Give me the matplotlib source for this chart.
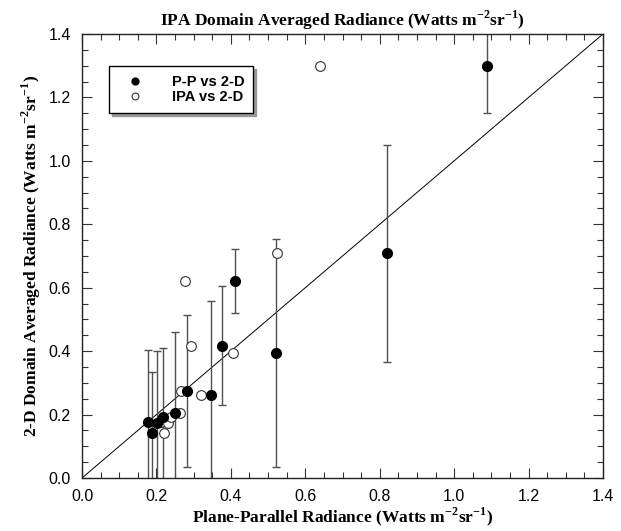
import numpy as np
import matplotlib.pyplot as plt
from matplotlib.ticker import MultipleLocator

plt.rcParams['mathtext.fontset'] = 'custom'
plt.rcParams['mathtext.rm'] = 'Liberation Serif:bold'
plt.rcParams['mathtext.bf'] = 'Liberation Serif:bold'

# 2-D domain averaged radiance (shared y for both series)
domain_2d = [0.178, 0.143, 0.172, 0.193, 0.206, 0.275, 0.261, 0.417, 0.621, 0.395, 0.709, 1.300]
# plane-parallel radiance and its spread
pp_rad = [0.178, 0.188, 0.202, 0.219, 0.250, 0.281, 0.346, 0.375, 0.411, 0.521, 0.819, 1.089]
pp_err = [0.226, 0.190, 0.229, 0.216, 0.255, 0.240, 0.297, 0.187, 0.100, 0.360, 0.342, 0.148]
# IPA domain averaged radiance
ipa_rad = [0.212, 0.220, 0.230, 0.238, 0.263, 0.266, 0.320, 0.292, 0.278, 0.407, 0.523, 0.640]

unit = r' (Watts m$^{\mathbf{-2}}$sr$^{\mathbf{-1}}$)'

fig = plt.figure(figsize=(6.21, 5.31), dpi=100)
ax = fig.add_axes([82 / 621, 1 - 478 / 531, 521 / 621, 444 / 531])

ax.plot([0, 1.4], [0, 1.4], color='black', lw=0.7, zorder=1)

ax.errorbar(pp_rad, domain_2d, yerr=pp_err, fmt='none', ecolor='#505050',
            elinewidth=1.0, capsize=3, capthick=1.0, zorder=2)
ax.plot(pp_rad, domain_2d, 'o', ms=7, mfc='black', mec='black',
        ls='none', label='P-P vs 2-D', zorder=4)
ax.plot(ipa_rad, domain_2d, 'o', ms=7, mfc='white', mec='#333333', mew=0.8,
        ls='none', label='IPA vs 2-D', zorder=3)

ax.set_xlim(0, 1.4)
ax.set_ylim(0, 1.4)
ax.xaxis.set_major_locator(MultipleLocator(0.2))
ax.yaxis.set_major_locator(MultipleLocator(0.2))
ax.xaxis.set_minor_locator(MultipleLocator(0.05))
ax.yaxis.set_minor_locator(MultipleLocator(0.05))
ax.xaxis.set_major_formatter(plt.FormatStrFormatter('%.1f'))
ax.yaxis.set_major_formatter(plt.FormatStrFormatter('%.1f'))
ax.tick_params(which='both', direction='in', top=True, right=True,
               color='#333333', width=0.8)
ax.tick_params(which='major', length=7, pad=8)
ax.tick_params(which='minor', length=4)
for lbl in ax.get_xticklabels() + ax.get_yticklabels():
    lbl.set_fontfamily('Liberation Sans')
    lbl.set_fontsize(11.5)
for sp in ax.spines.values():
    sp.set_linewidth(1.0)
    sp.set_color('#222222')

serif = dict(family='Liberation Serif', fontweight='bold', fontsize=12.5)
ax.set_title('IPA Domain Averaged Radiance' + unit, pad=6, **serif)
ax.set_xlabel('Plane-Parallel Radiance' + unit, labelpad=1, **serif)
ax.set_ylabel('2-D Domain Averaged Radiance' + unit, labelpad=4, **serif)

leg = ax.legend(loc='upper left', bbox_to_anchor=(0.038, 0.944), frameon=True,
                fancybox=False, shadow={'color': '#999999', 'alpha': 1.0, 'ox': 2, 'oy': -2},
                markerscale=0.7, handletextpad=1.3,
                borderpad=0.6, labelspacing=0.1, handlelength=2.4,
                prop={'family': 'Liberation Sans', 'weight': 'bold', 'size': 10.5})
leg.get_frame().set_edgecolor('black')
leg.get_frame().set_linewidth(1.0)

fig.savefig('out.png', dpi=100)
